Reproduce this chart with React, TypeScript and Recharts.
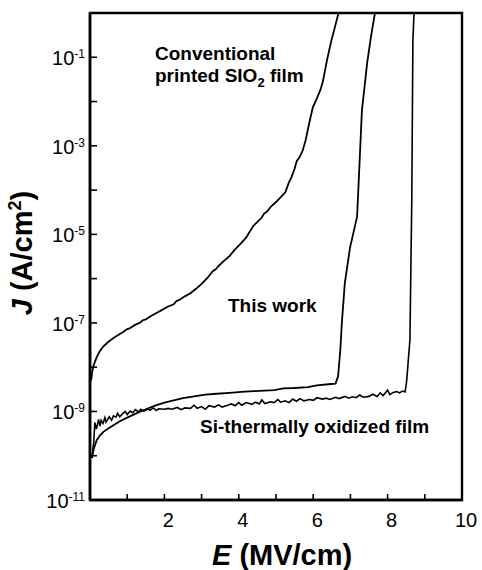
import React from "react";
import { LineChart, Line, XAxis, YAxis, ReferenceArea } from "recharts";

const FONT = "'Liberation Sans', Arial, Helvetica, sans-serif";
const TICK_SIZE = 6;
const TICK_MARGIN = 2;

// axis ticks (E in MV/cm, J as log10 exponent)
const X_TICKS = [0, 1, 2, 3, 4, 5, 6, 7, 8, 9, 10];
const X_LABELED = [2, 4, 6, 8, 10];
const Y_TICKS = [-11, -10, -9, -8, -7, -6, -5, -4, -3, -2, -1, 0];
const Y_LABELED = [-11, -9, -7, -5, -3, -1];

// [E, log10 J]
const conventional: [number, number][] = [
    [0.03, -8.3], [0.06, -8.1], [0.1, -7.95], [0.15, -7.84], [0.2, -7.74],
    [0.27, -7.63], [0.35, -7.54], [0.45, -7.46], [0.55, -7.39], [0.65, -7.33],
    [0.78, -7.26], [0.9, -7.2], [1.0, -7.14], [1.05, -7.13], [1.2, -7.05],
    [1.35, -6.99], [1.42, -6.94], [1.5, -6.92], [1.65, -6.84], [1.8, -6.77],
    [1.95, -6.7], [2.1, -6.63], [2.25, -6.58], [2.32, -6.51], [2.4, -6.48],
    [2.55, -6.4], [2.7, -6.33], [2.85, -6.23], [3.0, -6.12], [3.15, -5.99],
    [3.3, -5.83], [3.38, -5.79], [3.45, -5.72], [3.6, -5.6], [3.75, -5.49],
    [3.9, -5.34], [4.05, -5.21], [4.2, -5.07], [4.3, -4.93], [4.4, -4.8],
    [4.5, -4.72], [4.62, -4.62], [4.68, -4.53], [4.75, -4.49], [4.88, -4.36],
    [5.0, -4.27], [5.13, -4.16], [5.25, -4.05], [5.35, -3.82], [5.42, -3.7],
    [5.5, -3.52], [5.56, -3.34], [5.64, -3.25], [5.72, -3.1], [5.8, -2.86],
    [5.86, -2.62], [5.93, -2.35], [5.99, -2.13], [6.1, -1.93], [6.2, -1.72],
    [6.26, -1.55], [6.37, -1.07], [6.48, -0.65], [6.58, -0.33], [6.68, 0],
];

const thisWork: [number, number][] = [
    [0.05, -10.05], [0.1, -9.85], [0.18, -9.65], [0.27, -9.54], [0.36, -9.46],
    [0.5, -9.38], [0.63, -9.31], [0.8, -9.22], [1.0, -9.14], [1.2, -9.06],
    [1.5, -8.95], [1.75, -8.87], [2.0, -8.8], [2.25, -8.75], [2.5, -8.7],
    [2.8, -8.66], [3.1, -8.62], [3.4, -8.6], [3.76, -8.58], [4.06, -8.56],
    [4.4, -8.54], [4.7, -8.53], [4.95, -8.52], [5.2, -8.48], [5.5, -8.47],
    [5.86, -8.45], [6.1, -8.41], [6.48, -8.38], [6.6, -8.37], [6.67, -8.2],
    [6.73, -7.6], [6.77, -7.0], [6.85, -6.1], [6.99, -5.3], [7.18, -4.6],
    [7.31, -2.2], [7.45, -1.13], [7.55, -0.55], [7.66, 0],
];

const thermal: [number, number][] = [
    [0.05, -10.05], [0.1, -9.7], [0.13, -9.25], [0.17, -9.4], [0.2, -9.3],
    [0.23, -9.18], [0.27, -9.33], [0.3, -9.2], [0.35, -9.27], [0.4, -9.14],
    [0.43, -9.24], [0.48, -9.17], [0.52, -9.12], [0.58, -9.2], [0.63, -9.1],
    [0.7, -9.13], [0.74, -9.04], [0.8, -9.12], [0.88, -9.05], [0.95, -9.0],
    [1.0, -9.07], [1.08, -8.99], [1.15, -9.03], [1.22, -8.96], [1.3, -9.01],
    [1.36, -8.95], [1.45, -8.99], [1.55, -8.95], [1.62, -8.97], [1.7, -8.92],
    [1.78, -8.98], [1.85, -8.94], [2.0, -8.95], [2.1, -8.93], [2.2, -8.95],
    [2.35, -8.91], [2.45, -8.96], [2.55, -8.92], [2.7, -8.93], [2.8, -8.86],
    [2.88, -8.93], [3.0, -8.89], [3.1, -8.95], [3.2, -8.87], [3.35, -8.9],
    [3.45, -8.85], [3.55, -8.9], [3.7, -8.86], [3.8, -8.83], [3.9, -8.87],
    [4.0, -8.8], [4.08, -8.86], [4.2, -8.8], [4.35, -8.84], [4.45, -8.79],
    [4.55, -8.83], [4.62, -8.74], [4.7, -8.82], [4.85, -8.78], [4.95, -8.8],
    [5.05, -8.73], [5.12, -8.79], [5.25, -8.76], [5.35, -8.8], [5.45, -8.72],
    [5.55, -8.77], [5.65, -8.71], [5.75, -8.76], [5.9, -8.73], [6.0, -8.75],
    [6.1, -8.69], [6.25, -8.72], [6.35, -8.7], [6.45, -8.73], [6.6, -8.68],
    [6.7, -8.71], [6.85, -8.66], [6.95, -8.7], [7.05, -8.67], [7.15, -8.69],
    [7.25, -8.63], [7.35, -8.68], [7.5, -8.66], [7.6, -8.61], [7.72, -8.66],
    [7.8, -8.58], [7.88, -8.64], [8.0, -8.52], [8.06, -8.62], [8.15, -8.57],
    [8.25, -8.55], [8.32, -8.58], [8.4, -8.54], [8.47, -8.56], [8.51, -8.33],
    [8.6, -7.39], [8.65, -4.23], [8.68, -0.62], [8.71, 0],
];

const toRows = (pts: [number, number][]) => pts.map(([e, j]) => ({ e, j }));

function XTick(props: any) {
    const { x, y, payload } = props;
    const v = payload.value;
    const axisY = y - TICK_SIZE - TICK_MARGIN;
    return (
        <g>
            {v > 0 && v < 10 && (
                <line x1={x} x2={x} y1={axisY} y2={axisY - 6} stroke="#000" strokeWidth={1.6} />
            )}
            {X_LABELED.includes(v) && (
                <text x={x + 4} y={axisY + 27} textAnchor="middle" fontSize={20} fontFamily={FONT} fill="#000">
                    {v}
                </text>
            )}
        </g>
    );
}

function YTick(props: any) {
    const { x, y, payload } = props;
    const v = payload.value;
    const axisX = x + TICK_SIZE + TICK_MARGIN;
    return (
        <g>
            {v > -11 && v < 0 && (
                <line x1={axisX} x2={axisX + 7} y1={y} y2={y} stroke="#000" strokeWidth={1.6} />
            )}
            {Y_LABELED.includes(v) && (
                <text x={axisX - 5} y={y + 8} textAnchor="end" fontSize={20} fontFamily={FONT} fill="#000">
                    10
                    <tspan fontSize={12} dy={-7}>
                        {String(v)}
                    </tspan>
                </text>
            )}
        </g>
    );
}

export default function App() {
    return (
        <div style={{ position: "absolute", left: 0, top: 0, width: 482, height: 570, background: "#fff" }}>
            <LineChart width={482} height={570} margin={{ top: 13, right: 20, left: 10, bottom: 0 }}>
                <XAxis
                    type="number"
                    dataKey="e"
                    domain={[0, 10]}
                    ticks={X_TICKS}
                    interval={0}
                    allowDataOverflow
                    height={70}
                    tickSize={TICK_SIZE}
                    tickMargin={TICK_MARGIN}
                    tickLine={false}
                    axisLine={{ stroke: "#000", strokeWidth: 2.6 }}
                    tick={XTick}
                />
                <YAxis
                    type="number"
                    dataKey="j"
                    domain={[-11, 0]}
                    ticks={Y_TICKS}
                    interval={0}
                    allowDataOverflow
                    width={80}
                    tickSize={TICK_SIZE}
                    tickMargin={TICK_MARGIN}
                    tickLine={false}
                    axisLine={{ stroke: "#000", strokeWidth: 2.6 }}
                    tick={YTick}
                />
                <ReferenceArea x1={0} x2={10} y1={-11} y2={0} fill="none" stroke="#000" strokeWidth={2.4} />
                <Line data={toRows(conventional)} dataKey="j" type="linear" stroke="#000" strokeWidth={1.8} dot={false} isAnimationActive={false} />
                <Line data={toRows(thisWork)} dataKey="j" type="linear" stroke="#000" strokeWidth={1.8} dot={false} isAnimationActive={false} />
                <Line data={toRows(thermal)} dataKey="j" type="linear" stroke="#000" strokeWidth={1.6} dot={false} isAnimationActive={false} />
            </LineChart>
            <svg width={482} height={570} style={{ position: "absolute", left: 0, top: 0, pointerEvents: "none" }}>
                <g fontFamily={FONT} fontWeight="bold" fill="#000">
                    <text x={155} y={60} fontSize={19}>Conventional</text>
                    <text x={155} y={82} fontSize={19}>
                        printed SIO<tspan fontSize={13} dy={5}>2</tspan>
                        <tspan dy={-5}> film</tspan>
                    </text>
                    <text x={228} y={312} fontSize={19}>This work</text>
                    <text x={200} y={433} fontSize={19}>Si-thermally oxidized film</text>
                    <text x={212} y={565} fontSize={29}>
                        <tspan fontStyle="italic">E</tspan> (MV/cm)
                    </text>
                    <text x={32} y={253} fontSize={29} textAnchor="middle" transform="rotate(-90, 32, 253)">
                        <tspan fontStyle="italic">J</tspan> (A/cm<tspan fontSize={18} dy={-11}>2</tspan>
                        <tspan dy={11}>)</tspan>
                    </text>
                </g>
            </svg>
        </div>
    );
}
